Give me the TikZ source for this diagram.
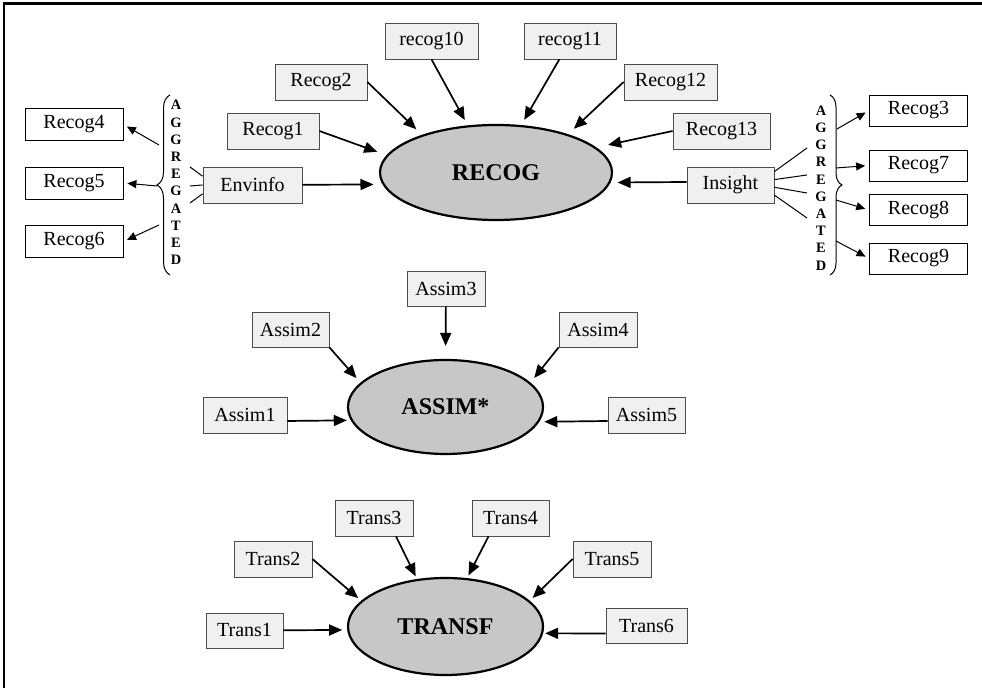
\documentclass[tikz,border=0pt]{standalone}
\usepackage{fontspec}
\setmainfont{Liberation Serif}
\usetikzlibrary{arrows.meta,shapes.geometric,decorations.pathreplacing}
\tikzset{
    every edge/.style={draw,-{Triangle[length=6.5pt,width=5.5pt]},line width=0.85pt,shorten >=3pt},
    item/.style={rectangle,draw=black!70,fill=black!6,minimum width=#1,minimum height=18pt,inner sep=2pt},
    item/.default=46pt,
    outitem/.style={rectangle,draw,fill=white,minimum width=49pt,minimum height=#1,inner sep=2pt},
    outitem/.default=16pt,
    hub/.style={ellipse,draw,line width=1.1pt,fill=black!22,font=\large\bfseries,inner sep=0pt},
    agg/.style={align=center,font=\fontsize{7.2}{8.6}\selectfont\bfseries,inner sep=0pt},
    aggarrow/.style={line width=0.5pt,-{Triangle[length=4.5pt,width=4pt]},shorten >=2pt},
    agglink/.style={line width=0.5pt,-,shorten >=0pt},
    aggbrace/.style={draw,line width=0.5pt,decorate,decoration={brace,amplitude=#1}},
}

\begin{document}
\begin{tikzpicture}[x=0.5pt,y=-0.5pt]
    \useasboundingbox (0,0) rectangle (982,688);
    \draw[line width=1.2pt] (982,3.5) -- (4,3.5) -- (4,688);

    % RECOG
    \node[hub,minimum width=116pt,minimum height=47.5pt] (recog) at (496,172.5) {RECOG};
    \node[item] (r1) at (273,131) {Recog1};
    \node[item] (r2) at (321,82) {Recog2};
    \node[item=46.5pt] (r10) at (431.5,41) {recog10};
    \node[item] (r11) at (570,41) {recog11};
    \node[item=46.5pt] (r12) at (670.5,82) {Recog12};
    \node[item=48.5pt] (r13) at (721.5,131) {Recog13};
    \node[item=49.5pt] (env) at (252.5,185) {Envinfo};
    \node[item=43.5pt] (ins) at (730.5,185) {Insight};

    \node[outitem] (r4) at (74,124.5) {Recog4};
    \node[outitem] (r5) at (74,183) {Recog5};
    \node[outitem] (r6) at (74,241.5) {Recog6};
    \node[outitem=15.5pt] (r3) at (918.5,110.5) {Recog3};
    \node[outitem=15.5pt] (r7) at (918.5,165.5) {Recog7};
    \node[outitem=15.5pt] (r8) at (918.5,210) {Recog8};
    \node[outitem=15.5pt] (r9) at (918.5,258.5) {Recog9};

    \node[agg] (aggl) at (176,182.5) {A\\G\\G\\R\\E\\G\\A\\T\\E\\D};
    \node[agg] (aggr) at (821,188) {A\\G\\G\\R\\E\\G\\A\\T\\E\\D};
    \draw[aggbrace=6.5pt] (170,275) -- (170,95);
    \draw[aggbrace=6pt] (830,95) -- (830,275);

    \coordinate (bl1) at (159,145);
    \coordinate (bl2) at (157,186);
    \coordinate (bl3) at (159,225);
    \coordinate (el1) at (190,167);
    \coordinate (el2) at (190,186);
    \coordinate (el3) at (190,203);
    \coordinate (br1) at (837,129);
    \coordinate (br2) at (836,168);
    \coordinate (br3) at (836,200);
    \coordinate (br4) at (836,241);
    \coordinate (il1) at (807,148);
    \coordinate (il2) at (807,175);
    \coordinate (il3) at (807,193);
    \coordinate (il4) at (807,218);

    \path
    (r1.east) edge[shorten >=5pt] (recog.171)
    (r2.east) edge[shorten >=4pt] (recog.153)
    (r10.south) edge (recog.121)
    (r11) edge (recog.62)
    (r12.west) edge[shorten >=4pt] (recog.28)
    (r13.west) edge[shorten >=6pt] (recog.14)
    (env) edge[shorten >=4.5pt] (recog.186)
    ([yshift=1.5pt]ins.west) edge[shorten >=3.5pt] (recog.355);

    \path
    (bl1) edge[aggarrow] (r4.east)
    (bl2) edge[aggarrow] (r5.east)
    (bl3) edge[aggarrow] (r6.east)
    (env.170) edge[agglink] (el1)
    (env.west) edge[agglink] (el2)
    (env.190) edge[agglink] (el3)
    (br1) edge[aggarrow] (r3.west)
    (br2) edge[aggarrow] (r7.west)
    (br3) edge[aggarrow] (r8.west)
    (br4) edge[aggarrow] (r9.west)
    (ins.17) edge[agglink] (il1)
    (ins.7) edge[agglink] (il2)
    (ins.357) edge[agglink] (il3)
    (ins.347) edge[agglink] (il4);

    % ASSIM
    \node[hub,minimum width=97.5pt,minimum height=47pt] (assim) at (445.5,407) {ASSIM*};
    \node[item=42pt] (a1) at (245,415) {Assim1};
    \node[item=38.5pt,minimum height=17.5pt] (a2) at (290.5,329.5) {Assim2};
    \node[item=39pt,minimum height=17.5pt] (a3) at (446,288.5) {Assim3};
    \node[item=39pt,minimum height=17.5pt] (a4) at (598,329.5) {Assim4};
    \node[item=38.5pt] (a5) at (646.5,415) {Assim5};

    \path
    ([yshift=-3pt]a1.east) edge[shorten >=2pt] (assim.188)
    (a2.south east) edge (assim.164)
    (a3) edge[shorten >=6.5pt] (assim.90)
    (a4.south west) edge (assim.16)
    ([yshift=-3pt]a5.west) edge[shorten >=2.5pt] (assim.351);

    % TRANSF
    \node[hub,minimum width=97.5pt,minimum height=48.5pt] (transf) at (445.5,626.5) {TRANSF};
    \node[item=38.5pt,minimum height=17.5pt] (t1) at (244.5,630.5) {Trans1};
    \node[item=39pt] (t2) at (273,559) {Trans2};
    \node[item=39pt] (t3) at (374,518) {Trans3};
    \node[item=38.5pt] (t4) at (510.5,518) {Trans4};
    \node[item=39pt] (t5) at (612,559) {Trans5};
    \node[item=40.5pt,minimum height=17.5pt] (t6) at (646.5,625.5) {Trans6};

    \path
    (t1) edge[shorten >=2.5pt] (transf.182)
    (t2.east) edge[shorten >=2pt] (transf.163)
    ([xshift=11pt]t3.south) edge[shorten >=1.5pt] (transf.121)
    ([xshift=-11pt]t4.south) edge[shorten >=1.5pt] (transf.66)
    (t5.west) edge[shorten >=2pt] (transf.17)
    ([yshift=-4pt]t6.west) edge[shorten >=1pt] (transf.356);
\end{tikzpicture}
\end{document}
